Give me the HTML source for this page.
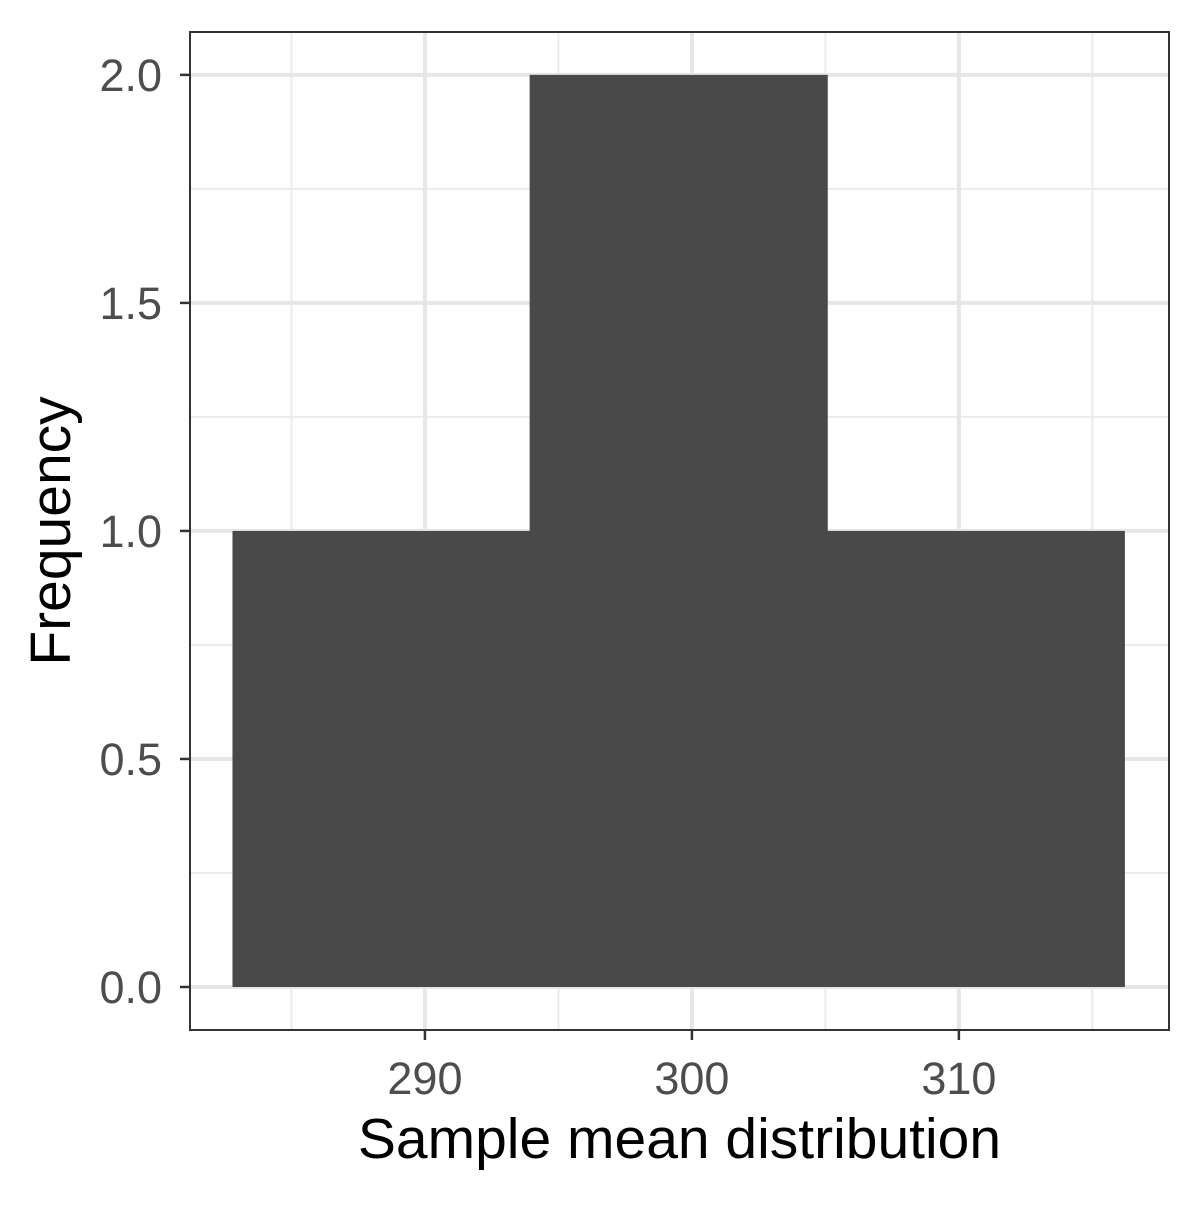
<!DOCTYPE html>
<html><head><meta charset="utf-8"><style>
body{margin:0;background:#fff;}
svg text{font-family:"Liberation Sans",Arial,sans-serif;}
</style></head><body>
<svg id="chart" width="1200" height="1200" xmlns="http://www.w3.org/2000/svg">
<rect width="1200" height="1200" fill="#fff"/>
<g id="grid"></g><g id="bars"></g><g id="axes"></g>
</svg>
<script>
const binEdges=[282.81,293.94,305.07,316.2];
const counts=[1,2,1];
const xTicks=[290,300,310];
const xMinor=[285,295,305,315];
const yTicks=[0,0.5,1,1.5,2];
const yTickLabels=["0.0","0.5","1.0","1.5","2.0"];
const yMinor=[0.25,0.75,1.25,1.75];

const L=190,R=1169,T=32,B=1030;
const x0=281.2,x1=317.87,y0=-0.0943,y1=2.094;
const sx=v=>L+(v-x0)/(x1-x0)*(R-L);
const sy=v=>B-(v-y0)/(y1-y0)*(B-T);
const NS="http://www.w3.org/2000/svg";
function mk(tag,attrs,parent){const e=document.createElementNS(NS,tag);for(const k in attrs)e.setAttribute(k,attrs[k]);parent.appendChild(e);return e;}
const grid=document.getElementById('grid'),bars=document.getElementById('bars'),axes=document.getElementById('axes');
xMinor.forEach(v=>{const l=mk('line',{x1:sx(v),x2:sx(v),y1:T,y2:B,stroke:'#ebebeb','stroke-width':2},grid);

});
yMinor.forEach(v=>{const l=mk('line',{x1:L,x2:R,y1:sy(v),y2:sy(v),stroke:'#ebebeb','stroke-width':2},grid);

});
xTicks.forEach(v=>{const l=mk('line',{x1:sx(v),x2:sx(v),y1:T,y2:B,stroke:'#e6e6e6','stroke-width':4},grid);

});
yTicks.forEach(v=>{const l=mk('line',{x1:L,x2:R,y1:sy(v),y2:sy(v),stroke:'#e6e6e6','stroke-width':4},grid);

});
counts.forEach((c,i)=>{const r=mk('rect',{x:sx(binEdges[i])-0.5,y:sy(c),width:sx(binEdges[i+1])-sx(binEdges[i])+1,height:sy(0)-sy(c),fill:'#494949'},bars);

});
const fr=mk('rect',{x:L,y:T,width:R-L,height:B-T,fill:'none',stroke:'#333','stroke-width':2},axes);


xTicks.forEach(v=>{mk('line',{x1:sx(v),x2:sx(v),y1:B,y2:B+10,stroke:'#333','stroke-width':2.5},axes);
const t=mk('text',{x:sx(v),y:1094,'text-anchor':'middle','font-size':45,fill:'#4d4d4d'},axes);t.textContent=v;

});
yTicks.forEach((v,i)=>{mk('line',{x1:L-10,x2:L,y1:sy(v),y2:sy(v),stroke:'#333','stroke-width':2.5},axes);
const t=mk('text',{x:162,y:sy(v)+16,'text-anchor':'end','font-size':45,fill:'#4d4d4d'},axes);t.textContent=yTickLabels[i];

});
const xt=mk('text',{x:(L+R)/2,y:1158,'text-anchor':'middle','font-size':57,fill:'#000'},axes);xt.textContent='Sample mean distribution';


const yt=mk('text',{x:0,y:0,'text-anchor':'middle','font-size':57,fill:'#000',transform:'translate(70,531) rotate(-90)'},axes);yt.textContent='Frequency';


</script>
</body></html>
